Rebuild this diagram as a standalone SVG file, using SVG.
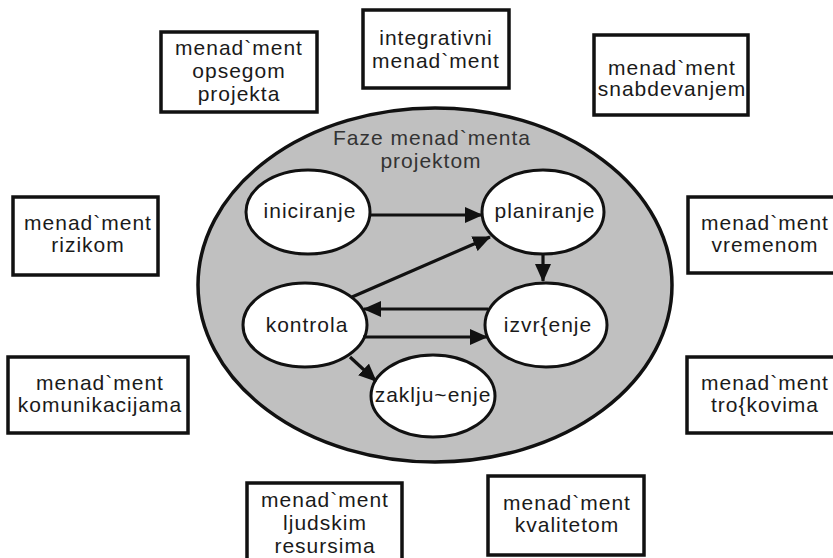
<svg xmlns="http://www.w3.org/2000/svg" width="833" height="558" viewBox="0 0 833 558">
<style>
.box{fill:#fff;stroke:#111;stroke-width:3.5}
.t{font-family:"Liberation Sans",Arial,sans-serif;font-size:21px;letter-spacing:1px;fill:#1a1a1a;text-anchor:middle}
.ph{fill:#fff;stroke:#111;stroke-width:3}
.c{stroke:#111;stroke-width:3.2;fill:none;marker-end:url(#ah)}
</style>
<defs>
<marker id="ah" viewBox="0 0 18 16" refX="17" refY="8" markerWidth="18" markerHeight="16" markerUnits="userSpaceOnUse" orient="auto">
<path d="M0,0 L18,8 L0,16 Z" fill="#111"/>
</marker>
</defs>
<g id="opseg"><rect class="box" x="161" y="32" width="156" height="80"/>
<text class="t" x="239" y="55">menad`ment</text><text class="t" x="239" y="78">opsegom</text><text class="t" x="239" y="101">projekta</text></g>
<g id="integrativni"><rect class="box" x="363" y="10" width="146" height="78"/>
<text class="t" x="436" y="45">integrativni</text><text class="t" x="436" y="68">menad`ment</text></g>
<g id="snabdevanje"><rect class="box" x="594" y="35" width="154" height="80"/>
<text class="t" x="672" y="75">menad`ment</text><text class="t" x="672" y="96">snabdevanjem</text></g>
<g id="rizik"><rect class="box" x="13" y="197" width="145" height="78"/>
<text class="t" x="88" y="230">menad`ment</text><text class="t" x="88" y="252">rizikom</text></g>
<g id="vreme"><rect class="box" x="688" y="197" width="155" height="76"/>
<text class="t" x="765" y="230">menad`ment</text><text class="t" x="765" y="252">vremenom</text></g>
<g id="komunikacije"><rect class="box" x="8" y="357" width="180" height="76"/>
<text class="t" x="100" y="390">menad`ment</text><text class="t" x="100" y="412">komunikacijama</text></g>
<g id="troskovi"><rect class="box" x="687" y="357" width="156" height="76"/>
<text class="t" x="765" y="390">menad`ment</text><text class="t" x="765" y="412">tro{kovima</text></g>
<g id="ljudski"><rect class="box" x="247" y="483" width="155" height="80"/>
<text class="t" x="325" y="507">menad`ment</text><text class="t" x="325" y="530">ljudskim</text><text class="t" x="325" y="553">resursima</text></g>
<g id="kvalitet"><rect class="box" x="488" y="476" width="156" height="79"/>
<text class="t" x="567" y="510">menad`ment</text><text class="t" x="567" y="532">kvalitetom</text></g>
<g id="faze"><ellipse cx="435" cy="285" rx="237" ry="177" fill="#c0c0c0" stroke="#111" stroke-width="3.5"/>
<text class="t" x="432" y="145" style="fill:#333">Faze menad`menta</text><text class="t" x="431" y="168" style="fill:#333">projektom</text></g>
<g id="iniciranje"><ellipse class="ph" cx="308" cy="212" rx="62" ry="42"/><text class="t" x="310" y="218">iniciranje</text></g>
<g id="planiranje"><ellipse class="ph" cx="543" cy="212" rx="61" ry="42"/><text class="t" x="545" y="218">planiranje</text></g>
<g id="kontrola"><ellipse class="ph" cx="305" cy="325" rx="62" ry="42"/><text class="t" x="307" y="332">kontrola</text></g>
<g id="izvrsenje"><ellipse class="ph" cx="546" cy="325" rx="61" ry="42"/><text class="t" x="548" y="332">izvr{enje</text></g>
<g id="zakljucenje"><ellipse class="ph" cx="433" cy="396" rx="62" ry="41"/><text class="t" x="433" y="402">zaklju~enje</text></g>
<g id="connectors">
<line class="c" x1="370" y1="215" x2="482" y2="215"/>
<line class="c" x1="352" y1="297" x2="490" y2="237"/>
<line class="c" x1="543" y1="255" x2="543" y2="281"/>
<line class="c" x1="488" y1="309" x2="364" y2="309"/>
<line class="c" x1="363" y1="337" x2="487" y2="337"/>
<line class="c" x1="350" y1="357" x2="376" y2="381"/>
</g>
</svg>
